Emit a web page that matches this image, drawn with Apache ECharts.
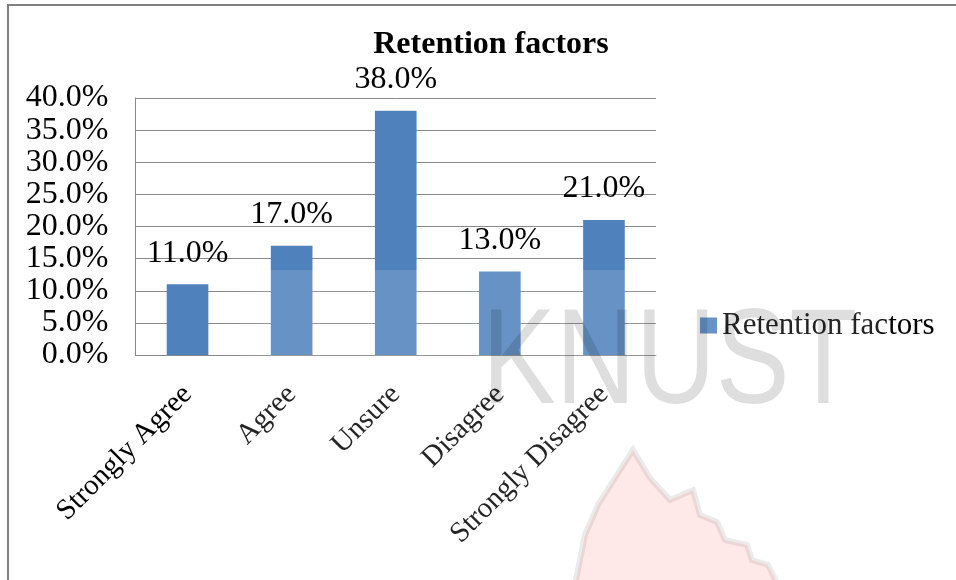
<!DOCTYPE html>
<html>
<head>
<meta charset="utf-8">
<script src="https://cdn.jsdelivr.net/npm/echarts@6/dist/echarts.min.js"></script>
<style>
  html, body { margin: 0; padding: 0; background: #fff; }
  #chart { width: 956px; height: 580px; }
</style>
</head>
<body>
<div id="chart"></div>
<script>
// 数据
const categories = ['Strongly Agree', 'Agree', 'Unsure', 'Disagree', 'Strongly Disagree'];
const retention = [11.0, 17.0, 38.0, 13.0, 21.0];
const seriesName = 'Retention factors';
const titleText = 'Retention factors';
const watermarkText = 'KNUST';

const FONT = '"Liberation Serif", "Times New Roman", serif';

const chart = echarts.init(document.getElementById('chart'));

chart.setOption({
  backgroundColor: '#fff',
  animation: false,
  title: {
    text: titleText,
    left: 486,
    top: 24,
    textAlign: 'center',
    textStyle: { fontFamily: FONT, fontSize: 32, fontWeight: 'bold', color: '#000' },
  },
  legend: {
    left: 700,
    top: 310,
    padding: 0,
    itemWidth: 17,
    itemHeight: 16,
    icon: 'rect',
    textStyle: { fontFamily: FONT, fontSize: 31, color: '#000' },
    data: [seriesName],
  },
  grid: { left: 135.5, right: 300, top: 98, bottom: 225, containLabel: false },
  xAxis: {
    type: 'category',
    data: categories,
    axisTick: { show: false },
    axisLine: { show: true, lineStyle: { color: '#888', width: 1 } },
    axisLabel: {
      rotate: 45,
      interval: 0,
      margin: 35,
      fontFamily: FONT,
      fontSize: 29,
      color: '#000',
    },
  },
  yAxis: {
    type: 'value',
    min: 0,
    max: 40,
    interval: 5,
    axisLine: { show: true, lineStyle: { color: '#888', width: 1 } },
    axisTick: { show: false },
    splitLine: { lineStyle: { color: '#888', width: 1 } },
    axisLabel: {
      margin: 27,
      fontFamily: FONT,
      fontSize: 32,
      color: '#000',
      formatter: v => v.toFixed(1) + '%',
    },
  },
  series: [{
    name: seriesName,
    type: 'bar',
    data: retention,
    barWidth: '40%',
    itemStyle: { color: '#4F81BD' },
    label: {
      show: true,
      position: 'top',
      distance: 15,
      fontFamily: FONT,
      fontSize: 32,
      color: '#000',
      formatter: p => p.value.toFixed(1) + '%',
    },
  }],
  // 外框 + 水印
  graphic: [
    {
      type: 'rect',
      z: 50,
      shape: { x: 8, y: 5, width: 980, height: 620 },
      style: { fill: 'none', stroke: '#808080', lineWidth: 2 },
    },
    {
      type: 'rect',
      z: 60,
      silent: true,
      shape: { x: 240, y: 270, width: 640, height: 320 },
      style: { fill: 'rgba(255,255,255,0.14)' },
    },
    {
      type: 'text',
      z: 61,
      silent: true,
      x: 482,
      y: 366,
      scaleX: 0.82,
      style: {
        text: watermarkText,
        font: '135px "Liberation Sans", Arial, sans-serif',
        fill: 'rgba(0,0,0,0.13)',
        align: 'left',
        verticalAlign: 'middle',
      },
    },
    {
      type: 'polygon',
      z: 61,
      silent: true,
      shape: {
        points: [
          [575, 585], [585, 535], [598, 505], [615, 478], [633, 450],
          [650, 478], [670, 500], [693, 490], [700, 515], [717, 522],
          [725, 540], [747, 545], [752, 560], [768, 565], [778, 585],
        ],
      },
      style: { fill: 'rgba(255,0,0,0.09)', stroke: 'rgba(0,0,0,0.08)', lineWidth: 6 },
    },
  ],
});
</script>
</body>
</html>
